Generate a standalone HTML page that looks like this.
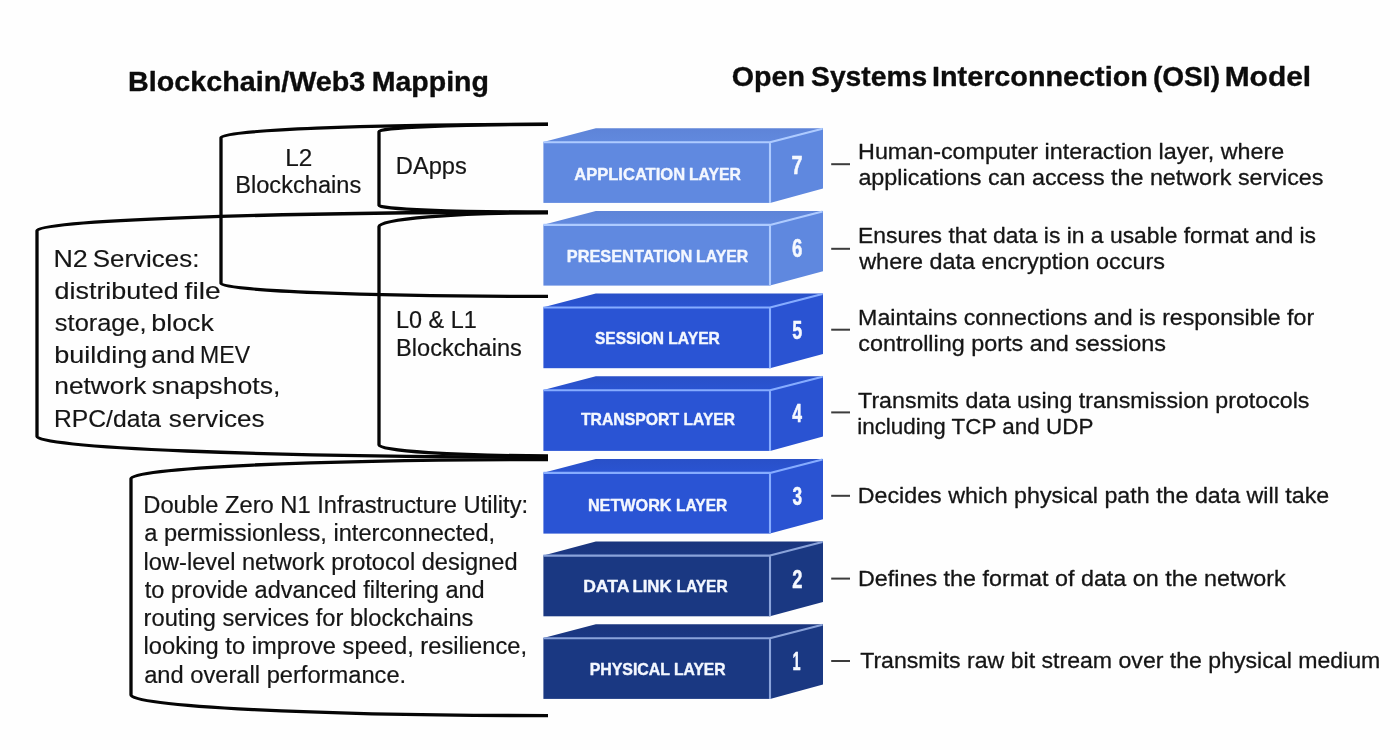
<!DOCTYPE html>
<html lang="en">
<head>
<meta charset="utf-8">
<title>Blockchain/Web3 Mapping to the OSI Model</title>
<style>
html,body{margin:0;padding:0;background:#fefefe;}
body{width:1400px;height:750px;overflow:hidden;position:relative;}
svg{display:block;position:absolute;left:0;top:0;will-change:transform;opacity:0.9999;}
text{font-family:"Liberation Sans",sans-serif;fill:#151515;stroke:#151515;stroke-width:0.3px;stroke-linejoin:round;}
.t{font-weight:700;font-size:28.3px;fill:#0c0c0c;stroke:#0c0c0c;stroke-width:0.35px;}
.lab{font-weight:700;font-size:17.0px;fill:#f3f7ff;stroke:#f3f7ff;stroke-width:0.4px;}
.num{font-weight:700;font-size:25.4px;fill:#f6f9ff;stroke:#f6f9ff;stroke-width:0.5px;}
.d{font-size:22.4px;}
.a{font-size:23.1px;stroke-width:0.2px;}
.n{font-size:23.7px;stroke-width:0.15px;}
.z{font-size:23.1px;stroke-width:0.2px;}
.br{fill:none;stroke:#050505;stroke-width:3.3;stroke-linecap:butt;stroke-linejoin:round;}
.dash{fill:#3c3c3c;}
</style>
</head>
<body>
<svg width="1400" height="750" viewBox="0 0 1400 750">
<defs>
<linearGradient id="topL" x1="0" y1="0" x2="0" y2="1"><stop offset="0" stop-color="#5e84d8"/><stop offset="1" stop-color="#6189de"/></linearGradient>
<linearGradient id="topM" x1="0" y1="0" x2="0" y2="1"><stop offset="0" stop-color="#2950c8"/><stop offset="1" stop-color="#2a54d2"/></linearGradient>
<linearGradient id="topD" x1="0" y1="0" x2="0" y2="1"><stop offset="0" stop-color="#1a357d"/><stop offset="1" stop-color="#1b3884"/></linearGradient>
</defs>
<rect x="0" y="0" width="1400" height="750" fill="#fefefe"/>

<g id="titles">
<text class="t" y="90.60"><tspan x="128.08" textLength="237.25" lengthAdjust="spacingAndGlyphs">Blockchain/Web3</tspan> <tspan x="371.69" textLength="117.22" lengthAdjust="spacingAndGlyphs">Mapping</tspan></text>
<text class="t" y="86.40"><tspan x="731.82" textLength="73.25" lengthAdjust="spacingAndGlyphs">Open</tspan> <tspan x="811.09" textLength="116.17" lengthAdjust="spacingAndGlyphs">Systems</tspan> <tspan x="931.97" textLength="215.91" lengthAdjust="spacingAndGlyphs">Interconnection</tspan> <tspan x="1152.90" textLength="67.10" lengthAdjust="spacingAndGlyphs">(OSI)</tspan> <tspan x="1224.70" textLength="86.42" lengthAdjust="spacingAndGlyphs">Model</tspan></text>
</g>
<g id="brackets">
<path class="br" d="M548.0 124.2 A327.0 13.3 0 0 0 221.0 137.5 L221.0 283.5 A327.0 12.9 0 0 0 548.0 296.4"/>
<path class="br" d="M548.0 124.4 A169.0 7.1 0 0 0 379.0 131.5 L379.0 205.5 A169.0 6.7 0 0 0 548.0 212.2"/>
<path class="br" d="M548.0 212.8 A169.0 13.7 0 0 0 379.0 226.5 L379.0 445.0 A169.0 10.8 0 0 0 548.0 455.8"/>
<path class="br" d="M548.0 212.2 A511.0 18.3 0 0 0 37.0 230.5 L37.0 436.5 A511.0 20.5 0 0 0 548.0 457.0"/>
<path class="br" d="M548.0 459.5 A417.0 19.0 0 0 0 131.0 478.5 L131.0 695.0 A417.0 20.6 0 0 0 548.0 715.6"/>
</g>
<g id="left-labels">
<text class="a" x="285.21" y="165.70" textLength="27.01" lengthAdjust="spacingAndGlyphs">L2</text>
<text class="a" x="235.26" y="193.10" textLength="125.99" lengthAdjust="spacingAndGlyphs">Blockchains</text>
<text class="a" x="395.86" y="173.60" textLength="70.99" lengthAdjust="spacingAndGlyphs">DApps</text>
<text class="a" x="396.08" y="327.80" textLength="80.66" lengthAdjust="spacingAndGlyphs">L0 &amp; L1</text>
<text class="a" x="396.07" y="355.80" textLength="125.79" lengthAdjust="spacingAndGlyphs">Blockchains</text>
<text class="n" y="266.60"><tspan x="53.40" textLength="34.36" lengthAdjust="spacingAndGlyphs">N2</tspan> <tspan x="92.82" textLength="106.54" lengthAdjust="spacingAndGlyphs">Services:</tspan></text>
<text class="n" y="298.70"><tspan x="54.47" textLength="124.27" lengthAdjust="spacingAndGlyphs">distributed</tspan> <tspan x="184.60" textLength="36.05" lengthAdjust="spacingAndGlyphs">file</tspan></text>
<text class="n" y="330.60"><tspan x="54.89" textLength="91.79" lengthAdjust="spacingAndGlyphs">storage,</tspan> <tspan x="151.27" textLength="62.69" lengthAdjust="spacingAndGlyphs">block</tspan></text>
<text class="n" y="363.00"><tspan x="54.26" textLength="93.08" lengthAdjust="spacingAndGlyphs">building</tspan> <tspan x="151.28" textLength="44.02" lengthAdjust="spacingAndGlyphs">and</tspan> <tspan x="200.11" textLength="49.99" lengthAdjust="spacingAndGlyphs">MEV</tspan></text>
<text class="n" y="394.30"><tspan x="54.25" textLength="92.11" lengthAdjust="spacingAndGlyphs">network</tspan> <tspan x="151.66" textLength="128.73" lengthAdjust="spacingAndGlyphs">snapshots,</tspan></text>
<text class="n" y="426.50"><tspan x="53.97" textLength="107.03" lengthAdjust="spacingAndGlyphs">RPC/data</tspan> <tspan x="168.87" textLength="95.67" lengthAdjust="spacingAndGlyphs">services</tspan></text>
<text class="z" x="143.25" y="513.20" textLength="384.91" lengthAdjust="spacingAndGlyphs">Double Zero N1 Infrastructure Utility:</text>
<text class="z" x="144.20" y="541.45" textLength="350.93" lengthAdjust="spacingAndGlyphs">a permissionless, interconnected,</text>
<text class="z" x="143.61" y="569.70" textLength="373.91" lengthAdjust="spacingAndGlyphs">low-level network protocol designed</text>
<text class="z" x="144.84" y="597.95" textLength="339.87" lengthAdjust="spacingAndGlyphs">to provide advanced filtering and</text>
<text class="z" x="143.63" y="626.20" textLength="329.82" lengthAdjust="spacingAndGlyphs">routing services for blockchains</text>
<text class="z" x="143.60" y="654.45" textLength="383.53" lengthAdjust="spacingAndGlyphs">looking to improve speed, resilience,</text>
<text class="z" x="144.19" y="682.70" textLength="261.97" lengthAdjust="spacingAndGlyphs">and overall performance.</text>
</g>
<g id="blocks">
<g>
<polygon points="543.4,142.0 595.8,128.3 823.0,128.3 770.0,142.0" fill="url(#topL)"/>
<polygon points="770.0,142.0 823.0,128.3 823.0,188.6 770.0,202.9" fill="#5f88df"/>
<rect x="543.4" y="142.0" width="226.6" height="60.9" fill="#6089e0"/>
<path d="M543.4 142.2 L770.0 142.2 L822.5 128.7 M770.0 142.0 L770.0 202.9" fill="none" stroke="#aecbff" stroke-width="2.1" stroke-linejoin="round"/>
<text class="lab" y="180.00"><tspan x="574.29" textLength="110.81" lengthAdjust="spacingAndGlyphs">APPLICATION</tspan> <tspan x="688.97" textLength="52.04" lengthAdjust="spacingAndGlyphs">LAYER</tspan></text>
<text class="num" x="791.45" y="174.40" textLength="11.02" lengthAdjust="spacingAndGlyphs">7</text>
</g>
<g>
<polygon points="543.4,224.7 595.8,211.0 823.0,211.0 770.0,224.7" fill="url(#topL)"/>
<polygon points="770.0,224.7 823.0,211.0 823.0,271.3 770.0,285.6" fill="#5f88df"/>
<rect x="543.4" y="224.7" width="226.6" height="60.9" fill="#6089e0"/>
<path d="M543.4 224.9 L770.0 224.9 L822.5 211.4 M770.0 224.7 L770.0 285.6" fill="none" stroke="#aecbff" stroke-width="2.1" stroke-linejoin="round"/>
<text class="lab" y="261.60"><tspan x="566.83" textLength="125.35" lengthAdjust="spacingAndGlyphs">PRESENTATION</tspan> <tspan x="696.07" textLength="52.14" lengthAdjust="spacingAndGlyphs">LAYER</tspan></text>
<text class="num" x="791.92" y="256.70" textLength="10.35" lengthAdjust="spacingAndGlyphs">6</text>
</g>
<g>
<polygon points="543.4,307.3 595.8,293.6 823.0,293.6 770.0,307.3" fill="url(#topM)"/>
<polygon points="770.0,307.3 823.0,293.6 823.0,353.9 770.0,368.2" fill="#2a53d2"/>
<rect x="543.4" y="307.3" width="226.6" height="60.9" fill="#2a54d4"/>
<path d="M543.4 307.5 L770.0 307.5 L822.5 294.0 M770.0 307.3 L770.0 368.2" fill="none" stroke="#86acff" stroke-width="2.1" stroke-linejoin="round"/>
<text class="lab" y="344.30"><tspan x="594.95" textLength="68.99" lengthAdjust="spacingAndGlyphs">SESSION</tspan> <tspan x="668.28" textLength="51.63" lengthAdjust="spacingAndGlyphs">LAYER</tspan></text>
<text class="num" x="792.15" y="339.30" textLength="9.95" lengthAdjust="spacingAndGlyphs">5</text>
</g>
<g>
<polygon points="543.4,390.0 595.8,376.3 823.0,376.3 770.0,390.0" fill="url(#topM)"/>
<polygon points="770.0,390.0 823.0,376.3 823.0,436.6 770.0,450.9" fill="#2a53d2"/>
<rect x="543.4" y="390.0" width="226.6" height="60.9" fill="#2a54d4"/>
<path d="M543.4 390.2 L770.0 390.2 L822.5 376.7 M770.0 390.0 L770.0 450.9" fill="none" stroke="#86acff" stroke-width="2.1" stroke-linejoin="round"/>
<text class="lab" y="425.30"><tspan x="580.92" textLength="98.15" lengthAdjust="spacingAndGlyphs">TRANSPORT</tspan> <tspan x="683.59" textLength="51.32" lengthAdjust="spacingAndGlyphs">LAYER</tspan></text>
<text class="num" x="792.23" y="422.20" textLength="9.76" lengthAdjust="spacingAndGlyphs">4</text>
</g>
<g>
<polygon points="543.4,472.7 595.8,459.0 823.0,459.0 770.0,472.7" fill="url(#topM)"/>
<polygon points="770.0,472.7 823.0,459.0 823.0,519.3 770.0,533.6" fill="#2a53d2"/>
<rect x="543.4" y="472.7" width="226.6" height="60.9" fill="#2a54d4"/>
<path d="M543.4 472.9 L770.0 472.9 L822.5 459.4 M770.0 472.7 L770.0 533.6" fill="none" stroke="#86acff" stroke-width="2.1" stroke-linejoin="round"/>
<text class="lab" y="511.00"><tspan x="587.92" textLength="83.63" lengthAdjust="spacingAndGlyphs">NETWORK</tspan> <tspan x="676.09" textLength="51.12" lengthAdjust="spacingAndGlyphs">LAYER</tspan></text>
<text class="num" x="792.40" y="504.90" textLength="9.62" lengthAdjust="spacingAndGlyphs">3</text>
</g>
<g>
<polygon points="543.4,555.4 595.8,541.6 823.0,541.6 770.0,555.4" fill="url(#topD)"/>
<polygon points="770.0,555.4 823.0,541.6 823.0,601.9 770.0,616.2" fill="#1a3882"/>
<rect x="543.4" y="555.4" width="226.6" height="60.9" fill="#1a3882"/>
<path d="M543.4 555.6 L770.0 555.6 L822.5 542.0 M770.0 555.4 L770.0 616.2" fill="none" stroke="#8aa3da" stroke-width="2.1" stroke-linejoin="round"/>
<text class="lab" y="591.60"><tspan x="583.20" textLength="45.53" lengthAdjust="spacingAndGlyphs">DATA</tspan> <tspan x="632.48" textLength="39.08" lengthAdjust="spacingAndGlyphs">LINK</tspan> <tspan x="676.39" textLength="51.32" lengthAdjust="spacingAndGlyphs">LAYER</tspan></text>
<text class="num" x="792.17" y="587.50" textLength="10.17" lengthAdjust="spacingAndGlyphs">2</text>
</g>
<g>
<polygon points="543.4,638.0 595.8,624.3 823.0,624.3 770.0,638.0" fill="url(#topD)"/>
<polygon points="770.0,638.0 823.0,624.3 823.0,684.6 770.0,698.9" fill="#1a3882"/>
<rect x="543.4" y="638.0" width="226.6" height="60.9" fill="#1a3882"/>
<path d="M543.4 638.2 L770.0 638.2 L822.5 624.7 M770.0 638.0 L770.0 698.9" fill="none" stroke="#8aa3da" stroke-width="2.1" stroke-linejoin="round"/>
<text class="lab" y="675.00"><tspan x="589.64" textLength="80.15" lengthAdjust="spacingAndGlyphs">PHYSICAL</tspan> <tspan x="673.98" textLength="51.63" lengthAdjust="spacingAndGlyphs">LAYER</tspan></text>
<text class="num" x="792.39" y="670.00" textLength="8.01" lengthAdjust="spacingAndGlyphs">1</text>
</g>
</g>
<g id="descriptions">
<rect class="dash" x="831.2" y="163.2" width="18.8" height="2.0"/>
<text class="d" x="858.09" y="158.60" textLength="426.14" lengthAdjust="spacingAndGlyphs">Human-computer interaction layer, where</text>
<text class="d" x="858.41" y="184.60" textLength="465.03" lengthAdjust="spacingAndGlyphs">applications can access the network services</text>
<rect class="dash" x="831.2" y="247.8" width="18.8" height="2.0"/>
<text class="d" x="858.12" y="242.80" textLength="457.90" lengthAdjust="spacingAndGlyphs">Ensures that data is in a usable format and is</text>
<text class="d" x="859.23" y="268.80" textLength="305.81" lengthAdjust="spacingAndGlyphs">where data encryption occurs</text>
<rect class="dash" x="831.2" y="328.7" width="18.8" height="2.0"/>
<text class="d" x="858.10" y="324.60" textLength="456.09" lengthAdjust="spacingAndGlyphs">Maintains connections and is responsible for</text>
<text class="d" x="858.21" y="350.60" textLength="307.84" lengthAdjust="spacingAndGlyphs">controlling ports and sessions</text>
<rect class="dash" x="831.2" y="411.4" width="18.8" height="2.0"/>
<text class="d" x="858.08" y="407.60" textLength="451.36" lengthAdjust="spacingAndGlyphs">Transmits data using transmission protocols</text>
<text class="d" x="857.20" y="433.60" textLength="236.18" lengthAdjust="spacingAndGlyphs">including TCP and UDP</text>
<rect class="dash" x="831.2" y="494.8" width="18.8" height="2.0"/>
<text class="d" x="857.79" y="503.20" textLength="471.44" lengthAdjust="spacingAndGlyphs">Decides which physical path the data will take</text>
<rect class="dash" x="831.2" y="577.6" width="18.8" height="2.0"/>
<text class="d" x="857.99" y="585.60" textLength="427.78" lengthAdjust="spacingAndGlyphs">Defines the format of data on the network</text>
<rect class="dash" x="831.2" y="660.0" width="18.8" height="2.0"/>
<text class="d" x="860.18" y="668.20" textLength="520.14" lengthAdjust="spacingAndGlyphs">Transmits raw bit stream over the physical medium</text>
</g>
</svg>
</body>
</html>
